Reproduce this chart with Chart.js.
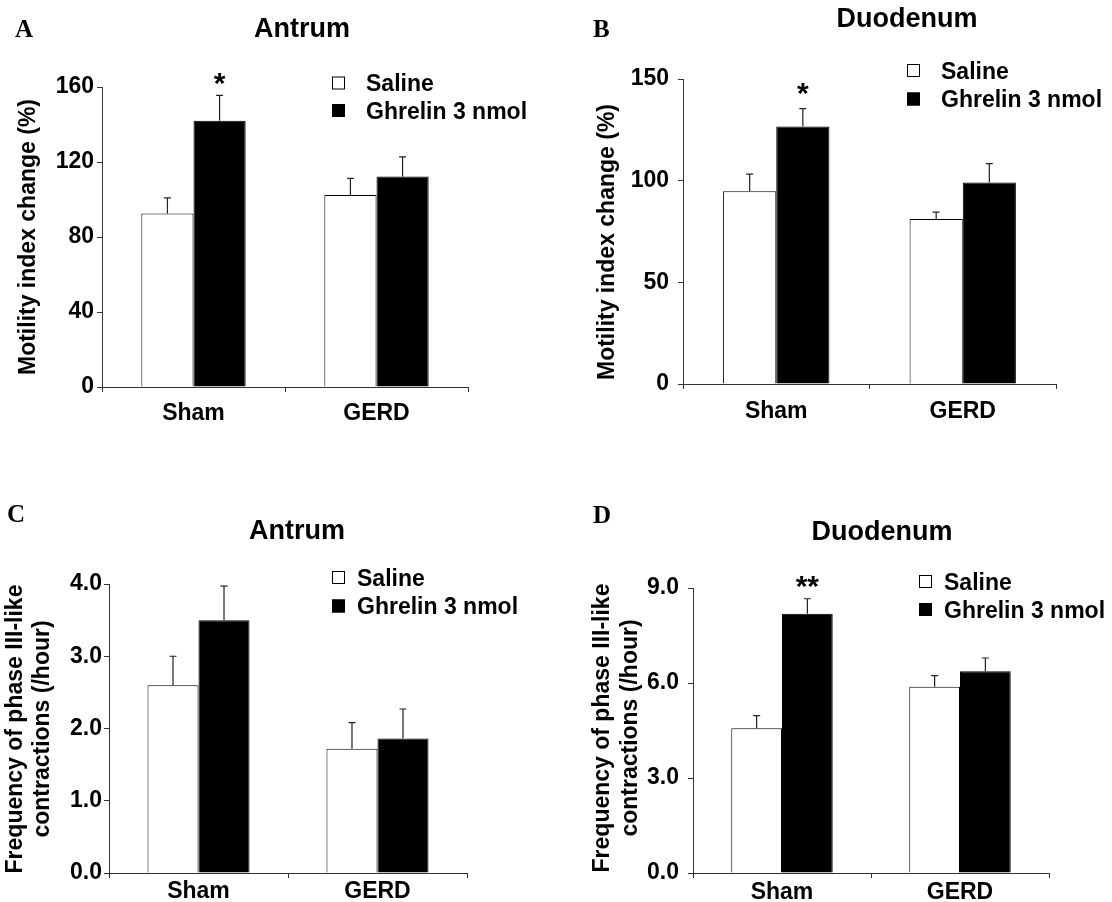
<!DOCTYPE html>
<html>
<head>
<meta charset="utf-8">
<script src="https://cdn.jsdelivr.net/npm/chart.js@4.4.1/dist/chart.umd.min.js"></script>
<style>
  body { margin: 0; background: #fff; }
  #wrap { position: relative; width: 1112px; height: 902px; overflow: hidden; }
  canvas { position: absolute; }
</style>
</head>
<body>
<div id="wrap">
  <canvas id="chartA" width="556" height="450" style="left:0;top:0"></canvas>
  <canvas id="chartB" width="556" height="450" style="left:556px;top:0"></canvas>
  <canvas id="chartC" width="556" height="452" style="left:0;top:450px"></canvas>
  <canvas id="chartD" width="556" height="452" style="left:556px;top:450px"></canvas>
</div>
<script>
const groups = ['Sham', 'GERD'];
const seriesLabels = ['Saline', 'Ghrelin 3 nmol'];

// motility index change (%), mean and SEM
const antrumMiSaline = [92.6, 102.4];
const antrumMiSalineSem = [8.3, 8.9];
const antrumMiGhrelin = [142.0, 112.3];
const antrumMiGhrelinSem = [13.5, 10.4];
const antrumMiTicks = [0, 40, 80, 120, 160];
const antrumMiSig = ['*', ''];

const duodMiSaline = [94.8, 81.2];
const duodMiSalineSem = [8.4, 3.3];
const duodMiGhrelin = [126.6, 99.1];
const duodMiGhrelinSem = [8.8, 9.3];
const duodMiTicks = [0, 50, 100, 150];
const duodMiSig = ['*', ''];

// frequency of phase III-like contractions (/hour)
const antrumP3Saline = [2.60, 1.72];
const antrumP3SalineSem = [0.40, 0.36];
const antrumP3Ghrelin = [3.50, 1.86];
const antrumP3GhrelinSem = [0.47, 0.41];
const antrumP3Ticks = [0, 1, 2, 3, 4];
const antrumP3Sig = ['', ''];

const duodP3Saline = [4.57, 5.88];
const duodP3SalineSem = [0.40, 0.35];
const duodP3Ghrelin = [8.19, 6.37];
const duodP3GhrelinSem = [0.47, 0.42];
const duodP3Ticks = [0, 3, 6, 9];
const duodP3Sig = ['**', ''];

const SANS = "'Liberation Sans', Arial, sans-serif";
const SERIF = "'Liberation Serif', 'Times New Roman', serif";
const FS = 23;
const STAR = 30;

Chart.defaults.font.family = SANS;
Chart.defaults.font.size = FS;
Chart.defaults.font.weight = 'bold';
Chart.defaults.color = '#000';

// text placed by the visual middle of its capitals
function capText(ctx, text, x, cy, size) {
  ctx.textBaseline = 'alphabetic';
  ctx.fillText(text, x, cy + 0.36 * size);
}

// error bars, significance marks, titles and the legend box
const decor = {
  id: 'decor',
  afterDatasetsDraw(chart, args, o) {
    const ctx = chart.ctx, y = chart.scales.y;
    ctx.save();
    chart.data.datasets.forEach((ds, i) => {
      chart.getDatasetMeta(i).data.forEach((bar, j) => {
        const top = y.getPixelForValue(ds.data[j] + ds.sem[j]);
        ctx.strokeStyle = '#222';
        ctx.lineWidth = 1.2;
        ctx.beginPath();
        ctx.moveTo(bar.x, bar.y);
        ctx.lineTo(bar.x, top);
        ctx.moveTo(bar.x - 3.5, top);
        ctx.lineTo(bar.x + 3.5, top);
        ctx.stroke();
        if (ds.sig && ds.sig[j]) {
          ctx.fillStyle = '#000';
          ctx.font = 'bold ' + STAR + 'px ' + SANS;
          ctx.textAlign = 'center';
          ctx.textBaseline = 'alphabetic';
          ctx.fillText(ds.sig[j], bar.x, top - o.sigGap + 0.58 * STAR);
        }
      });
    });
    ctx.restore();
  },
  afterDraw(chart, args, o) {
    const ctx = chart.ctx;
    ctx.save();
    ctx.fillStyle = '#000';

    ctx.font = 'bold 25px ' + SERIF;
    ctx.textAlign = 'left';
    ctx.textBaseline = 'alphabetic';
    ctx.fillText(o.letter, o.letterPos[0], o.letterPos[1]);

    ctx.font = 'bold 27px ' + SANS;
    ctx.textAlign = 'center';
    capText(ctx, o.title, o.titlePos[0], o.titlePos[1], 27);

    ctx.font = 'bold ' + FS + 'px ' + SANS;
    o.yTitle.forEach((line, k) => {
      ctx.save();
      ctx.translate(o.yTitleX[k], o.yTitleY);
      ctx.rotate(-Math.PI / 2);
      ctx.textAlign = 'center';
      ctx.textBaseline = 'middle';
      ctx.fillText(line, 0, 0);
      ctx.restore();
    });

    chart.data.datasets.forEach((ds, i) => {
      const cy = o.legend.rows[i];
      ctx.fillStyle = ds.backgroundColor;
      ctx.fillRect(o.legend.x, cy - 6.5, 13, 13);
      ctx.strokeStyle = '#000';
      ctx.lineWidth = 1;
      ctx.strokeRect(o.legend.x + 0.5, cy - 6, 12, 12);
      ctx.fillStyle = '#000';
      ctx.textAlign = 'left';
      capText(ctx, ds.label, o.legend.x + o.legend.gap, cy, FS);
    });
    ctx.restore();
  }
};

function panel(id, o) {
  const canvas = document.getElementById(id);
  const W = canvas.width, H = canvas.height;
  const yw = 60, xh = 50;
  const config = {
    type: 'bar',
    data: {
      labels: groups,
      datasets: [
        { label: seriesLabels[0], data: o.saline, sem: o.salineSem,
          backgroundColor: '#fff', borderColor: '#000', borderWidth: 1 },
        { label: seriesLabels[1], data: o.ghrelin, sem: o.ghrelinSem, sig: o.sig,
          backgroundColor: '#000', borderColor: '#000', borderWidth: 1 }
      ]
    },
    options: {
      responsive: false,
      animation: false,
      layout: {
        padding: { left: o.area.l - yw, top: o.area.t, right: W - o.area.r, bottom: H - o.area.b - xh }
      },
      datasets: { bar: { categoryPercentage: 0.57, barPercentage: 1 } },
      plugins: {
        legend: { display: false },
        tooltip: { enabled: false },
        decor: o.decor
      },
      scales: {
        x: {
          grid: { drawOnChartArea: false, tickLength: 5, color: '#333' },
          border: { color: '#333' },
          ticks: { padding: o.xPad },
          afterFit: s => { s.height = xh; }
        },
        y: {
          min: 0,
          max: o.ticks[o.ticks.length - 1],
          afterBuildTicks: s => { s.ticks = o.ticks.map(v => ({ value: v })); },
          grid: { drawOnChartArea: false, tickLength: 5, color: '#333' },
          border: { color: '#333' },
          ticks: {
            padding: o.yPad,
            callback: v => o.decimals ? Number(v).toFixed(1) : v
          },
          afterFit: s => { s.width = yw; }
        }
      }
    },
    plugins: [decor]
  };
  return new Chart(canvas, config);
}

panel('chartA', {
  saline: antrumMiSaline, salineSem: antrumMiSalineSem,
  ghrelin: antrumMiGhrelin, ghrelinSem: antrumMiGhrelinSem,
  sig: antrumMiSig, ticks: antrumMiTicks, decimals: false,
  area: { l: 102, t: 87, r: 468, b: 387 }, xPad: 8, yPad: 3,
  decor: {
    letter: 'A', letterPos: [15, 37],
    title: 'Antrum', titlePos: [302, 27],
    yTitle: ['Motility index change (%)'], yTitleX: [29], yTitleY: 237,
    legend: { x: 332, rows: [83, 110.5], gap: 34 },
    sigGap: 19.5
  }
});

panel('chartB', {
  saline: duodMiSaline, salineSem: duodMiSalineSem,
  ghrelin: duodMiGhrelin, ghrelinSem: duodMiGhrelinSem,
  sig: duodMiSig, ticks: duodMiTicks, decimals: false,
  area: { l: 127, t: 79, r: 500, b: 384 }, xPad: 9, yPad: 9,
  decor: {
    letter: 'B', letterPos: [37, 37],
    title: 'Duodenum', titlePos: [351, 17],
    yTitle: ['Motility index change (%)'], yTitleX: [51.5], yTitleY: 242,
    legend: { x: 351, rows: [70.5, 99], gap: 34 },
    sigGap: 23.5
  }
});

panel('chartC', {
  saline: antrumP3Saline, salineSem: antrumP3SalineSem,
  ghrelin: antrumP3Ghrelin, ghrelinSem: antrumP3GhrelinSem,
  sig: antrumP3Sig, ticks: antrumP3Ticks, decimals: true,
  area: { l: 109, t: 134, r: 467, b: 423 }, xPad: 0, yPad: 2,
  decor: {
    letter: 'C', letterPos: [7, 72],
    title: 'Antrum', titlePos: [297, 79],
    yTitle: ['Frequency of phase III-like', 'contractions (/hour)'], yTitleX: [15.5, 43], yTitleY: 279,
    legend: { x: 332, rows: [127.5, 156], gap: 25 },
    sigGap: 21
  }
});

panel('chartD', {
  saline: duodP3Saline, salineSem: duodP3SalineSem,
  ghrelin: duodP3Ghrelin, ghrelinSem: duodP3GhrelinSem,
  sig: duodP3Sig, ticks: duodP3Ticks, decimals: true,
  area: { l: 137, t: 138, r: 493, b: 423 }, xPad: 1, yPad: 9,
  decor: {
    letter: 'D', letterPos: [37, 73],
    title: 'Duodenum', titlePos: [326, 80],
    yTitle: ['Frequency of phase III-like', 'contractions (/hour)'], yTitleX: [46.5, 75], yTitleY: 278,
    legend: { x: 363, rows: [131.5, 159.5], gap: 25 },
    sigGap: 20
  }
});
</script>
</body>
</html>
